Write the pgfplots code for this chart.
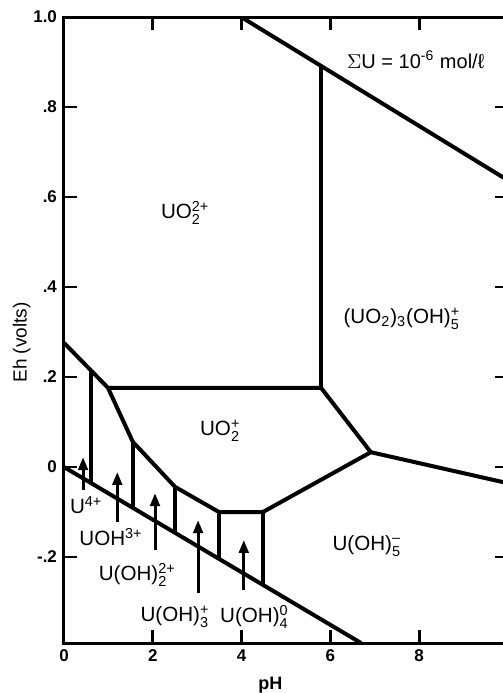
\documentclass[border=0pt]{standalone}
\usepackage{fontspec}
\setmainfont{Liberation Sans}
\usepackage{amsmath}
\usepackage{pgfplots}
\pgfplotsset{compat=1.18}
\usetikzlibrary{arrows.meta}

% chemical formula helpers (text font inside sub/superscripts)
\newcommand{\sub}[1]{\ensuremath{_{\text{#1}}}}
\newcommand{\sps}[1]{\ensuremath{^{\text{#1}}}}
\newcommand{\subsup}[2]{\ensuremath{_{\text{#1}}^{\text{#2}}}}

\begin{document}
\begin{tikzpicture}
\begin{axis}[
  scale only axis, width=222pt, height=313pt,
  xmin=0, xmax=10, ymin=-0.391, ymax=1.0,
  axis line style={line width=1.5pt},
  tick style={line width=1.4pt, black},
  major tick length=6.5pt,
  tick align=inside,
  xtick={0,2,4,6,8}, xticklabels={0,2,4,6,8},
  ytick={-0.2,0,0.2,0.4,0.6,0.8,1.0},
  yticklabels={-.2,0,.2,.4,.6,.8,1.0},
  ticklabel style={font=\bfseries\fontsize{8.5}{10}\selectfont},
  xlabel={pH}, ylabel={Eh (volts)},
  xlabel style={at={(axis description cs:0.465,-0.067)}, anchor=center,
                font=\bfseries\fontsize{9}{10}\selectfont},
  ylabel style={at={(axis description cs:-0.095,0.48)}, anchor=center,
                font=\fontsize{9.5}{11}\selectfont},
  clip=true,
]
% stability limits of water
\addplot[black, line width=2pt] coordinates {(3.99,1.0) (10,0.637)};
\addplot[black, line width=2pt] coordinates {(0,0) (6.69,-0.391)};

% U(VI) / U(V) fields
\addplot[black, line width=2pt] coordinates {(5.79,0.891) (5.79,0.176)};
\addplot[black, line width=2pt] coordinates {(0.99,0.176) (5.79,0.176) (6.91,0.033) (10,-0.036)};
\addplot[black, line width=2pt] coordinates {(6.91,0.033) (4.48,-0.1) (3.49,-0.1)};

% upper limit of the U(IV) species
\addplot[black, line width=2pt] coordinates {(0,0.276) (0.99,0.176) (1.55,0.056) (2.5,-0.044) (3.49,-0.1)};

% U(IV) hydrolysis boundaries
\addplot[black, line width=2pt] coordinates {(0.61,0.214) (0.61,-0.036)};
\addplot[black, line width=2pt] coordinates {(1.55,0.056) (1.55,-0.091)};
\addplot[black, line width=2pt] coordinates {(2.5,-0.044) (2.5,-0.146)};
\addplot[black, line width=2pt] coordinates {(3.49,-0.1) (3.49,-0.204)};
\addplot[black, line width=2pt] coordinates {(4.48,-0.1) (4.48,-0.262)};

% pointers to the narrow fields
\pgfplotsset{ptr/.style={black, line width=1.5pt, -{Triangle[length=6.5pt,width=4.8pt]}}}
\addplot[ptr] coordinates {(0.43,-0.051) (0.43,0.022)};
\addplot[ptr] coordinates {(1.2,-0.122) (1.2,-0.011)};
\addplot[ptr] coordinates {(2.05,-0.184) (2.05,-0.058)};
\addplot[ptr] coordinates {(3.02,-0.28) (3.02,-0.118)};
\addplot[ptr] coordinates {(4.05,-0.273) (4.05,-0.162)};

% species labels
\begin{scope}[every node/.style={font=\fontsize{10.3}{12}\selectfont, inner sep=0pt}]
\node at (axis cs:2.73,0.564) {UO\subsup{2}{2+}};
\node[font=\fontsize{10}{12}\selectfont] at (axis cs:7.92,0.905) {$\Sigma$U = 10\sps{-6} mol/ℓ};
\node at (axis cs:7.61,0.33) {(UO\sub{2})\sub{3}(OH)\subsup{5}{+}};
\node at (axis cs:3.52,0.08) {UO\subsup{2}{+}};
\node at (axis cs:6.82,-0.175) {U(OH)\subsup{5}{--}};
\node at (axis cs:0.5,-0.085) {U\sps{4+}};
\node at (axis cs:1.06,-0.155) {UOH\sps{3+}};
\node at (axis cs:1.65,-0.24) {U(OH)\subsup{2}{2+}};
\node at (axis cs:2.5,-0.333) {U(OH)\subsup{3}{+}};
\node at (axis cs:4.29,-0.333) {U(OH)\subsup{4}{0}};
\end{scope}
\end{axis}
\pgfresetboundingbox
\useasboundingbox (-32pt,-25pt) rectangle (219.5pt,321.5pt);
\end{tikzpicture}
\end{document}
